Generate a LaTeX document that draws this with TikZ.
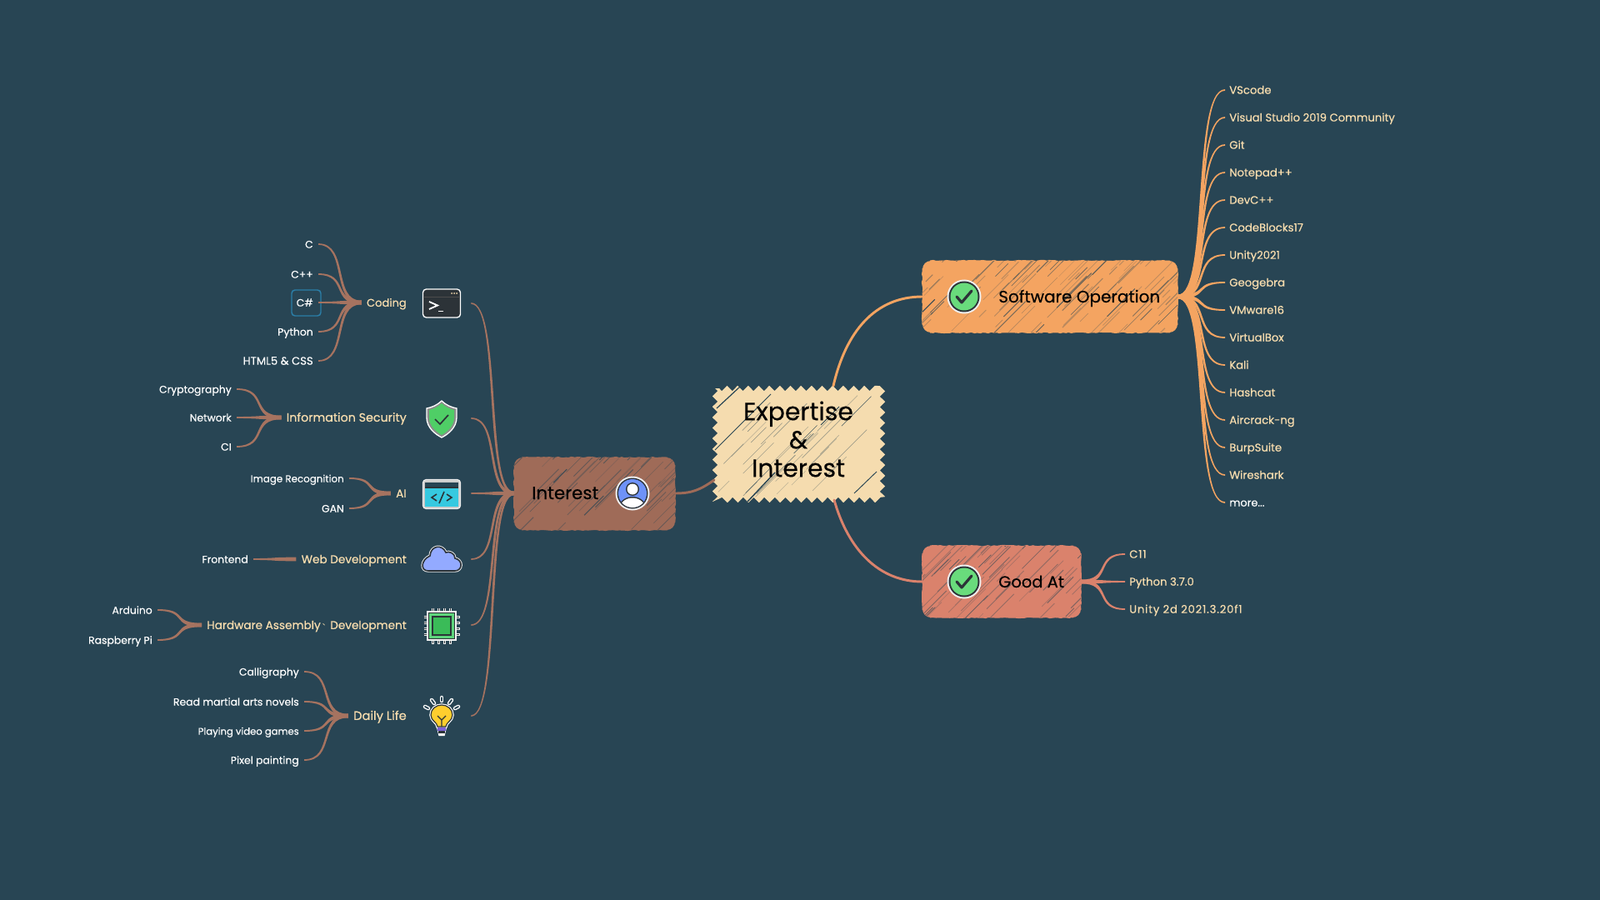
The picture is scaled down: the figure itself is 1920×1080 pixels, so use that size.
\documentclass[tikz,border=0pt]{standalone}
\usepackage{fontspec}
\setmainfont{Poppins}
\newfontfamily\cjkf{Noto Sans CJK SC}
\newfontfamily\leaff{Poppins}[FakeBold=0.25]
\newfontfamily\labf{Poppins}[FakeBold=0.5]
\newfontfamily\labsp{Poppins}[FakeBold=0.5,LetterSpace=6]
\newfontfamily\mainf{Poppins}[FakeBold=0.25]
\usetikzlibrary{calc,decorations.pathmorphing}
\pgfdeclarelayer{back}\pgfdeclarelayer{bg}\pgfsetlayers{back,bg,main}
\definecolor{bgc}{HTML}{284554}
\definecolor{cream}{HTML}{F5DCAF}
\definecolor{labc}{HTML}{F8DDAE}
\definecolor{swc}{HTML}{F4A461}
\definecolor{goodc}{HTML}{DA826C}
\definecolor{intc}{HTML}{9F6B58}
\definecolor{brn}{HTML}{A67360}
\definecolor{darkc}{HTML}{2C3338}
\definecolor{okg}{HTML}{69DC7C}
\definecolor{csbox}{HTML}{2B7FA8}
\tikzset{
 x=0.75pt,y=-0.75pt,
 leaf/.style={text=white,font=\leaff\fontsize{9.3pt}{11pt}\selectfont,inner xsep=4.5pt,inner ysep=0pt,anchor=east,text height=7pt,text depth=0pt},
 branch/.style={text=labc,font=\labf\fontsize{10.2pt}{12pt}\selectfont,inner xsep=4.5pt,inner ysep=0pt,anchor=east,text height=7.4pt,text depth=0pt},
 rleaf/.style={text=labc,font=\labf\fontsize{9.9pt}{11pt}\selectfont,inner xsep=3.75pt,inner ysep=0pt,anchor=west,text height=7pt,text depth=0pt},
 mainbox/.style={text=black,font=\mainf\fontsize{15pt}{16pt}\selectfont,inner sep=0pt,text height=10.5pt,text depth=0pt},
 iconbox/.style={minimum width=52.5pt,minimum height=20pt,inner sep=0pt},
 trunk/.style={line width=2.2pt,line cap=round},
 rough/.style={line width=.7pt,decorate,decoration={random steps,segment length=2.5pt,amplitude=.5pt}},
}
\newcommand\taper[3]{%
 \fill[#3] let \p1=(#1),\p2=(#2),\n1={\x2-\x1},\n2={\y2-\y1},\n3={veclen(\n1,\n2)},
  \n4={-\n2/\n3},\n5={\n1/\n3},\n6={\n1>0?1:-1} in
  (\x1,{\y1+0.65*\n6}) .. controls ({\x1+0.7*\n1+1.05*\n4},{\y1+1.05*\n5}) and ({\x2-0.7*\n1+1.6*\n4},{\y2+1.6*\n5}) .. (\x2,{\y2+1.8*\n6})
  -- (\x2,{\y2-1.8*\n6}) .. controls ({\x2-0.7*\n1-1.6*\n4},{\y2-1.6*\n5}) and ({\x1+0.7*\n1-1.05*\n4},{\y1-1.05*\n5}) .. (\x1,{\y1-0.65*\n6}) -- cycle;}
\newcommand\sketchbox[7]{%
 \begin{pgfonlayer}{bg}
 \fill[#5,rounded corners=7.5pt] (#1,#2) rectangle (#3,#4);
 \draw[#5,rough] ({#1+9},#2) -- ({#3-9},#2);
 \draw[#5,rough] ({#1+9},#4) -- ({#3-9},#4);
 \draw[#5,rough] (#1,{#2+9}) -- (#1,{#4-9});
 \draw[#5,rough] (#3,{#2+9}) -- (#3,{#4-9});
 \begin{scope}
 \clip[rounded corners=7.5pt] (#1,#2) rectangle (#3,#4);
 \pgfmathsetseed{#7}
 \foreach \i in {1,...,#6}{
  \pgfmathsetmacro\hx{#1-10+rnd*(#3-#1+10)}
  \pgfmathsetmacro\hy{#2+rnd*(#4-#2+10)}
  \pgfmathsetmacro\hl{8+rnd*42}
  \pgfmathsetmacro\ho{0.25+0.75*rnd*rnd}
  \pgfmathsetmacro\hw{0.3+0.55*rnd}
  \draw[bgc,opacity=\ho,line width=\hw pt] (\hx,\hy) -- ++(\hl,-\hl);
 }
 \end{scope}
 \end{pgfonlayer}}
\newcommand\okicon[1]{\begin{scope}[shift={(#1)}]
 \fill[white!88!gray] (0,0) circle[radius=20.5];
 \fill[darkc] (0,0) circle[radius=18.5];
 \fill[okg] (0,0) circle[radius=16.5];
 \draw[darkc,line width=2.4pt,line cap=round,line join=round] (-9,0) -- (-3,7) -- (9,-7);
\end{scope}}
\begin{document}
\begin{tikzpicture}
\useasboundingbox (0,0) rectangle (1920,1080);
\begin{pgfonlayer}{back}
\fill[bgc] (0,0) rectangle (1920,1080);
\end{pgfonlayer}

% ---------- main boxes
\node[mainbox,font=\mainf\fontsize{22.4pt}{25.5pt}\selectfont,align=center,minimum width=155pt,minimum height=105pt,text height=,text depth=] (ctr) at (958,527) {Expertise\\\&\\Interest};
\node[iconbox,minimum width=229.5pt,minimum height=64.5pt] (sw) at (1260,356) {};
\node[iconbox,minimum width=142.5pt,minimum height=64.5pt] (good) at (1202,698) {};
\node[iconbox,minimum width=144.75pt,minimum height=65.25pt] (int) at (713.5,592) {};
\node[mainbox,anchor=west] (swt) at (1198,356) {Software Operation};
\node[mainbox,anchor=west,font=\mainf\fontsize{14.6pt}{16pt}\selectfont] (goodt) at (1198,698) {Good At};
\node[mainbox,anchor=west,font=\mainf\fontsize{16pt}{18pt}\selectfont] (intt) at (638,592) {Interest};

\sketchbox{1107}{313}{1413}{399}{swc}{100}{11}
\sketchbox{1107}{655}{1297}{741}{goodc}{65}{23}
\sketchbox{617}{549}{810}{636}{intc}{50}{37}
\begin{pgfonlayer}{bg}
 \fill[cream,decorate,decoration={zigzag,segment length=9.5pt,amplitude=2.4pt}] (858,466) rectangle (1059,600);
 \begin{scope}
 \pgfmathsetseed{5}
 \foreach \i in {1,...,34}{
  \pgfmathsetmacro\hx{860+rnd*150}
  \pgfmathsetmacro\hy{510+rnd*90}
  \pgfmathsetmacro\hl{12+rnd*35}
  \pgfmathsetmacro\ho{0.25+0.6*rnd*rnd}
  \draw[bgc,opacity=\ho,line width=.45pt] (\hx,\hy) -- ++(\hl,-\hl);
 }
 \draw[bgc,line width=.9pt] (860,490) -- (888,464);
 \draw[bgc,line width=1.1pt] (897,602) -- (930,567);
 \draw[bgc,line width=.6pt] (858,540) -- (925,473);
 \draw[bgc,line width=.7pt] (985,510) -- (1007,488);
 \draw[bgc,line width=.7pt] (1025,592) -- (1052,566);
 \end{scope}
\end{pgfonlayer}

% ---------- icon holders
\foreach \nn/\yy in {icCoding/364,icSec/502,icAI/592,icWeb/671,icHw/750,icLife/859}
 \node[iconbox] (\nn) at (530,\yy) {};

% ---------- branch labels
\node[branch,font=\labf\fontsize{9.8pt}{12pt}\selectfont] (coding) at (494,363) {Coding};
\node[branch,font=\labf\fontsize{10.7pt}{12pt}\selectfont] (sec) at (494,501) {Information Security};
\node[branch] (ai) at (494,592) {AI};
\node[branch] (web) at (494,671) {Web Development};
\node[branch] (hw) at (494,750) {Hardware Assembly\,\raisebox{.35em}{\cjkf\fontsize{7pt}{8pt}\selectfont 、}Development};
\node[branch,font=\labf\fontsize{11pt}{12pt}\selectfont] (life) at (494,859) {Daily Life};

% ---------- left leaves
\node[leaf] (c1) at (382,293) {C};
\node[leaf] (c2) at (382,329) {C++};
\node[leaf] (c3) at (382,363) {C\#};
\node[leaf] (c4) at (382,398) {Python};
\node[leaf,font=\leaff\fontsize{9.9pt}{11pt}\selectfont] (c5) at (382,433) {HTML5 \& CSS};
\node[leaf] (s1) at (284,467) {Cryptography};
\node[leaf] (s2) at (284,501) {Network};
\node[leaf] (s3) at (284,536) {CI};
\node[leaf,font=\leaff\fontsize{8.9pt}{11pt}\selectfont] (a1) at (419,574) {Image Recognition};
\node[leaf] (a2) at (419,610) {GAN};
\node[leaf] (w1) at (304,671) {Frontend};
\node[leaf] (h1) at (189,732) {Arduino};
\node[leaf] (h2) at (189,768) {Raspberry Pi};
\node[leaf] (l1) at (365,806) {Calligraphy};
\node[leaf] (l2) at (365,842) {Read martial arts novels};
\node[leaf,font=\leaff\fontsize{8.7pt}{11pt}\selectfont] (l3) at (365,877) {Playing video games};
\node[leaf] (l4) at (365,912) {Pixel painting};

\draw[csbox,line width=1.1pt,rounded corners=3pt] (350,348) rectangle (385,379);

% ---------- left connectors
\foreach \aa/\bb in {c1/coding,c2/coding,c3/coding,c4/coding,c5/coding,
  s1/sec,s2/sec,s3/sec,a1/ai,a2/ai,w1/web,h1/hw,h2/hw,l1/life,l2/life,l3/life,l4/life}
  \taper{\aa.east}{\bb.west}{brn};
\foreach \aa in {icCoding,icSec,icAI,icWeb,icHw,icLife}
  \taper{\aa.east}{int.west}{brn};

% ---------- right leaves
\foreach \nn/\yy/\tt in {r1/108/VScode,r2/141/Visual Studio 2019 Community,r3/174/Git,r4/207/Notepad++,r5/240/DevC++,r6/273/CodeBlocks17,r7/306/Unity2021,r8/339/Geogebra,r9/372/VMware16,r10/405/VirtualBox,r11/438/Kali,r12/471/Hashcat,r13/504/Aircrack-ng,r14/537/BurpSuite,r15/570/Wireshark}{
 \node[rleaf] (\nn) at (1470,\yy) {\tt};
 \taper{\nn.west}{sw.east}{swc};
}
\node[rleaf,text=white,font=\leaff\fontsize{9.6pt}{11pt}\selectfont] (r16) at (1470,603) {more...};
\taper{r16.west}{sw.east}{swc};

\node[rleaf,font=\labsp\fontsize{9.9pt}{11pt}\selectfont] (g1) at (1350,665) {C11};
\node[rleaf] (g2) at (1350,698) {Python 3.7.0};
\node[rleaf,font=\labsp\fontsize{9.9pt}{11pt}\selectfont] (g3) at (1350,731) {Unity 2d 2021.3.20f1};
\foreach \aa in {g1,g2,g3} \taper{\aa.west}{good.east}{goodc};

% ---------- centre connectors
\coordinate (ctrT) at (1000,463);
\coordinate (ctrB) at (1001,600);
\coordinate (ctrL) at (857,576);
\draw[swc,trunk] (ctrT) .. controls (1015,398) and (1050,356) .. (sw.west);
\draw[goodc,trunk] (ctrB) .. controls (1018,660) and (1055,698) .. (good.west);
\draw[intc,trunk] (int.east) .. controls (830,592) and (840,588) .. (ctrL);

% ---------- status icons
\okicon{1157,356}
\okicon{1157,698}
\begin{scope}[shift={(759,592)}]
 \fill[white!88!gray] (0,0) circle[radius=20.5];
 \fill[darkc] (0,0) circle[radius=18.5];
 \definecolor{usr}{HTML}{6E92F8}
 \fill[usr] (0,0) circle[radius=17];
 \begin{scope}
 \clip (0,0) circle[radius=17];
 \fill[darkc] (0,-5) circle[radius=8];
 \fill[white] (0,-5) circle[radius=6.5];
 \fill[darkc] (0,19) ellipse[x radius=17,y radius=15];
 \fill[white] (0,20) ellipse[x radius=16,y radius=14.5];
 \end{scope}
\end{scope}

% ---------- terminal
\begin{scope}[shift={(530,364)}]
 \draw[white,line width=1pt,fill=darkc,rounded corners=3pt] (-22.5,-17) rectangle (22.5,17);
 \draw[black!70,line width=.6pt] (-21,-8) -- (21,-8);
 \foreach \dx in {12,15,18} \fill[cream] (\dx,-12) circle[radius=1];
 \draw[white,line width=1.4pt] (-15,-2) -- (-5,2.5) -- (-15,7);
 \draw[white,line width=1pt] (-4,9.5) -- (2,9.5);
\end{scope}
% ---------- shield
\begin{scope}[shift={(530,503)}]
 \path[fill=gray!90!white,draw=white,line width=1pt] (0,-22) .. controls (5,-17) and (12,-14) .. (18,-13) -- (18,-2) .. controls (18,10) and (8,18) .. (0,22) .. controls (-8,18) and (-18,10) .. (-18,-2) -- (-18,-13) .. controls (-12,-14) and (-5,-17) .. cycle;
 \definecolor{shg}{HTML}{4FCE66}
 \path[fill=shg] (0,-19) .. controls (4,-15) and (10,-12) .. (15,-11) -- (15,-2) .. controls (15,8) and (7,15) .. (0,19) .. controls (-7,15) and (-15,8) .. (-15,-2) -- (-15,-11) .. controls (-10,-12) and (-4,-15) .. cycle;
 \draw[darkc,line width=1.3pt] (-8,0) -- (-2,6) -- (8,-5);
\end{scope}
% ---------- window
\begin{scope}[shift={(530,593)}]
 \definecolor{wcy}{HTML}{36C9E0}
 \draw[white!85!gray,line width=1pt,fill=gray!40!white,rounded corners=3pt] (-22.5,-17.5) rectangle (22.5,17.5);
 \fill[bgc] (-20,-14.5) rectangle (20,-7);
 \fill[wcy] (-20,-7) rectangle (20,15);
 \draw[darkc,line width=.9pt] (-20,-8) -- (20,-8);
 \draw[darkc,line width=1.2pt] (-6,0) -- (-12,4) -- (-6,8) (6,0) -- (12,4) -- (6,8);
 \draw[darkc,line width=1.2pt] (-3,11) -- (3,-3);
\end{scope}
% ---------- cloud
\begin{scope}[shift={(530,671)}]
 \definecolor{cld}{HTML}{93AAFF}
 \def\cloudp{(-16,14) -- (16,14) .. controls (25,14) and (26,1) .. (16,-1) .. controls (16,-7) and (9,-10) .. (5,-8) .. controls (1,-18) and (-13,-17) .. (-14,-4) .. controls (-25,1) and (-26,14) .. (-16,14) -- cycle}
 \draw[white!85!gray,line width=2.6pt] \cloudp;
 \draw[darkc,fill=cld,line width=1.2pt] \cloudp;
\end{scope}
% ---------- chip
\begin{scope}[shift={(530,751)}]
 \definecolor{chA}{HTML}{5ED47C}\definecolor{chB}{HTML}{3ABB58}
 \foreach \pp in {-10.5,-3.5,3.5,10.5}{
  \draw[white!90!gray,line width=2.6pt] (\pp,-21.5) -- (\pp,21.5) (-21.5,\pp) -- (21.5,\pp);
  \draw[darkc,line width=1pt] (\pp,-21) -- (\pp,21) (-21,\pp) -- (21,\pp);
 }
 \draw[white!90!gray,line width=1pt,fill=white] (-17,-17) rectangle (17,17);
 \draw[darkc,line width=1pt,fill=chA] (-15.5,-15.5) rectangle (15.5,15.5);
 \draw[darkc,line width=.8pt,fill=chB] (-11,-11) rectangle (11,11);
\end{scope}
% ---------- bulb
\begin{scope}[shift={(530,860)}]
 \definecolor{blb}{HTML}{FFCE2E}\definecolor{bas}{HTML}{7C62D8}
 \foreach \ax/\ay/\bx/\by in {-20/-12/-16/-10,-12/-20/-9/-16,0/-23/0/-19,12/-20/9/-16,20/-12/16/-10}{
  \draw[white,line width=3.4pt,line cap=round] (\ax,\ay) -- (\bx,\by);
  \draw[bgc,line width=1.4pt,line cap=round] (\ax,\ay) -- (\bx,\by);
 }
 \def\bulbp{(-5,12) .. controls (-5,7) and (-13,5) .. (-13,-2) .. controls (-13,-9) and (-7,-14) .. (0,-14) .. controls (7,-14) and (13,-9) .. (13,-2) .. controls (13,5) and (5,7) .. (5,12) -- cycle}
 \draw[white,line width=2.6pt] \bulbp;
 \draw[white,line width=3pt,line cap=round] (-4,13) -- (4,13) -- (2,21) -- (-2,21) -- cycle;
 \draw[darkc,line width=.9pt,fill=blb] \bulbp;
 \fill[bas] (-5,13) rectangle (5,17);
 \fill[darkc] (-4,17) rectangle (4,20);
 \draw[darkc,line width=1pt] (-5,-1) -- (0,4) -- (5,-1) (0,4) -- (0,12);
\end{scope}
\end{tikzpicture}
\end{document}
